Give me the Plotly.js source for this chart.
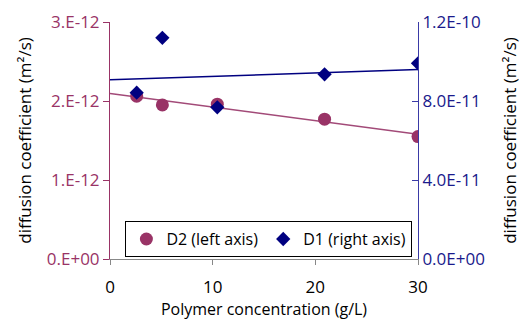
<!DOCTYPE html>
<html>
<head>
<meta charset="utf-8">
<script src="https://cdn.plot.ly/plotly-3.0.1.min.js"></script>
<style>
  html, body { margin: 0; padding: 0; background: #fff; }
  #chart { width: 524px; height: 320px; }
</style>
</head>
<body>
<div id="chart"></div>
<script>
// Polymer concentration (g/L) for both series
const concentration = [2.6, 5.1, 10.45, 20.9, 30];
// D2 diffusion coefficients (m²/s), left axis
const d2Values = [2.06e-12, 1.95e-12, 1.96e-12, 1.77e-12, 1.55e-12];
// D1 diffusion coefficients (m²/s), right axis
const d1Values = [8.42e-11, 1.12e-10, 7.68e-11, 9.35e-11, 9.91e-11];

const leftTickVals = [0, 1e-12, 2e-12, 3e-12];
const leftTickText = ['0.E+00', '1.E-12', '2.E-12', '3.E-12'];
const rightTickVals = [0, 4e-11, 8e-11, 1.2e-10];
const rightTickText = ['0.0E+00', '4.0E-11', '8.0E-11', '1.2E-10'];
const xTickVals = [0, 10, 20, 30];

const xRange = [0, 30];
const leftRange = [0, 3e-12];
const rightRange = [0, 1.2e-10];

// Least-squares linear trend evaluated over the x range
function linearFit(xs, ys) {
  const n = xs.length;
  const mx = xs.reduce((a, b) => a + b, 0) / n;
  const my = ys.reduce((a, b) => a + b, 0) / n;
  let sxy = 0, sxx = 0;
  for (let i = 0; i < n; i++) {
    sxy += (xs[i] - mx) * (ys[i] - my);
    sxx += (xs[i] - mx) * (xs[i] - mx);
  }
  const slope = sxy / sxx;
  const intercept = my - slope * mx;
  return xRange.map(x => intercept + slope * x);
}

const MAROON = '#993366';
const NAVY = '#000080';
const RIGHT_LINE = '#3a3aa6';
const FONT = '"Open Sans", sans-serif';
const FS = 17;

const traces = [
  {
    x: xRange, y: linearFit(concentration, d2Values),
    type: 'scatter', mode: 'lines', yaxis: 'y',
    line: { color: '#a24a78', width: 1.5 },
    showlegend: false, hoverinfo: 'skip'
  },
  {
    x: xRange, y: linearFit(concentration, d1Values),
    type: 'scatter', mode: 'lines', yaxis: 'y2',
    line: { color: NAVY, width: 1.5 },
    showlegend: false, hoverinfo: 'skip'
  },
  {
    x: concentration, y: d2Values,
    type: 'scatter', mode: 'markers', yaxis: 'y',
    name: 'D2 (left axis)',
    marker: { symbol: 'circle', size: 13, color: MAROON }
  },
  {
    x: concentration, y: d1Values,
    type: 'scatter', mode: 'markers', yaxis: 'y2',
    name: 'D1 (right axis)',
    marker: { symbol: 'diamond', size: 11, color: NAVY }
  }
];

const layout = {
  width: 524, height: 320,
  margin: { l: 110, r: 106, t: 22, b: 61 },
  paper_bgcolor: '#fff', plot_bgcolor: '#fff',
  font: { family: FONT, size: FS, color: '#000' },
  showlegend: true,
  legend: {
    x: 0.05, y: 0.008, xanchor: 'left', yanchor: 'bottom',
    orientation: 'h',
    bgcolor: '#fff', bordercolor: '#000', borderwidth: 1,
    font: { family: FONT, size: 16, color: '#000' },
    itemwidth: 30, tracegroupgap: 0
  },
  xaxis: {
    range: xRange,
    tickvals: xTickVals,
    ticks: 'outside', ticklen: 5, tickcolor: '#888', tickwidth: 1,
    showline: true, linecolor: '#888', linewidth: 1,
    showgrid: false, zeroline: false,
    tickfont: { family: FONT, size: FS, color: '#000' },
    ticklabelstandoff: 8,
    title: { text: 'Polymer concentration (g/L)', font: { family: FONT, size: 16, color: '#000' }, standoff: 9 }
  },
  yaxis: {
    range: leftRange,
    tickvals: leftTickVals, ticktext: leftTickText,
    ticks: 'outside', ticklen: 6, tickcolor: MAROON, tickwidth: 1,
    showline: true, linecolor: MAROON, linewidth: 1,
    showgrid: false, zeroline: false,
    tickfont: { family: FONT, size: FS, color: MAROON },
    title: { text: 'diffusion coefficient (m²/s)', font: { family: FONT, size: FS, color: '#000' }, standoff: 10 }
  },
  yaxis2: {
    range: rightRange,
    overlaying: 'y', side: 'right',
    tickvals: rightTickVals, ticktext: rightTickText,
    ticks: 'inside', ticklen: 6, tickcolor: RIGHT_LINE, tickwidth: 1,
    showline: true, linecolor: RIGHT_LINE, linewidth: 1,
    showgrid: false, zeroline: false,
    tickfont: { family: FONT, size: FS, color: '#1a1a8c' },
    title: { text: 'diffusion coefficient (m²/s)', font: { family: FONT, size: FS, color: '#000' }, standoff: 20 }
  },
  // outer half of the crossing tick marks on the right axis
  yaxis3: {
    range: rightRange,
    overlaying: 'y', side: 'right',
    tickvals: rightTickVals, showticklabels: false,
    ticks: 'outside', ticklen: 6, tickcolor: RIGHT_LINE, tickwidth: 1,
    showline: false, showgrid: false, zeroline: false
  }
};

Plotly.newPlot('chart', traces, layout, { displayModeBar: false, staticPlot: true });
</script>
</body>
</html>
